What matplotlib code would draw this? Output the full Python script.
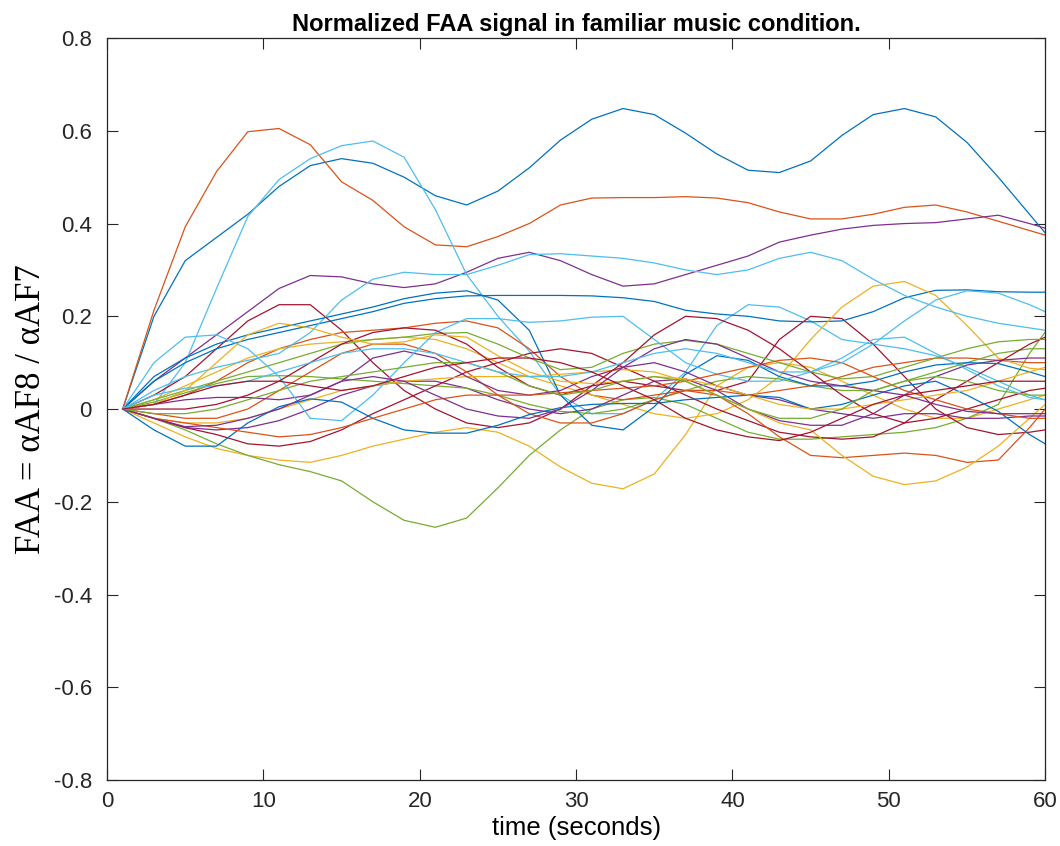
import matplotlib
matplotlib.use('Agg')
import matplotlib.pyplot as plt
from matplotlib.ticker import FuncFormatter

# sample times (seconds)
t = [1, 3, 5, 7, 9, 11, 13, 15, 17, 19, 21, 23, 25, 27, 29,
     31, 33, 35, 37, 39, 41, 43, 45, 47, 49, 51, 53, 55, 57, 59, 60]

# FAA traces, one list per trace
blue_a = [0, 0.2, 0.32, 0.37, 0.42, 0.48, 0.525, 0.54, 0.53, 0.5, 0.46, 0.44, 0.47, 0.52, 0.58,
          0.625, 0.648, 0.635, 0.595, 0.55, 0.515, 0.51, 0.535, 0.59, 0.635, 0.648, 0.63, 0.575, 0.5, 0.42, 0.38]
orange_a = [0, 0.213, 0.393, 0.512, 0.598, 0.605, 0.57, 0.49, 0.45, 0.393, 0.354, 0.35, 0.372, 0.4, 0.44,
            0.455, 0.456, 0.456, 0.458, 0.455, 0.445, 0.425, 0.41, 0.41, 0.42, 0.435, 0.44, 0.425, 0.405, 0.385, 0.375]
yellow_a = [0, -0.03, -0.06, -0.085, -0.1, -0.11, -0.115, -0.1, -0.08, -0.065, -0.05, -0.04, -0.05, -0.08, -0.125,
            -0.16, -0.172, -0.14, -0.055, 0.05, 0.09, 0.1, 0.09, 0.06, 0.03, 0.0, -0.02, -0.02, 0.0, 0.02, 0.03]
purple_a = [0, 0.06, 0.11, 0.16, 0.21, 0.26, 0.288, 0.285, 0.27, 0.262, 0.27, 0.295, 0.325, 0.338, 0.32,
            0.29, 0.265, 0.27, 0.29, 0.31, 0.33, 0.36, 0.375, 0.388, 0.396, 0.4, 0.402, 0.41, 0.418, 0.4, 0.39]
green_a = [0, -0.02, -0.045, -0.075, -0.1, -0.12, -0.135, -0.155, -0.2, -0.24, -0.255, -0.235, -0.17, -0.1, -0.045,
           0.0, 0.02, 0.025, 0.01, -0.02, -0.05, -0.065, -0.065, -0.06, -0.055, -0.05, -0.04, -0.02, 0.01, 0.12, 0.166]
ltblue_a = [0, 0.01, 0.1, 0.26, 0.415, 0.495, 0.54, 0.568, 0.578, 0.543, 0.43, 0.29, 0.2, 0.125, 0.03,
            -0.01, -0.01, 0.02, 0.08, 0.18, 0.225, 0.22, 0.19, 0.15, 0.14, 0.13, 0.115, 0.09, 0.06, 0.03, 0.02]
red_a = [0, 0.03, 0.07, 0.13, 0.19, 0.225, 0.225, 0.17, 0.1, 0.04, 0.0, -0.03, -0.04, -0.03, 0.0,
         0.05, 0.06, 0.05, 0.04, 0.04, 0.06, 0.15, 0.2, 0.195, 0.14, 0.07, 0.0, -0.04, -0.055, -0.05, -0.045]

blue_b = [0, 0.06, 0.1, 0.13, 0.15, 0.165, 0.18, 0.195, 0.21, 0.228, 0.238, 0.244, 0.245, 0.245, 0.245,
          0.244, 0.24, 0.232, 0.213, 0.205, 0.2, 0.19, 0.188, 0.19, 0.21, 0.24, 0.256, 0.257, 0.253, 0.252, 0.252]
orange_b = [0, 0.01, 0.03, 0.06, 0.1, 0.13, 0.15, 0.165, 0.17, 0.175, 0.185, 0.19, 0.175, 0.13, 0.07,
            0.03, 0.02, 0.03, 0.04, 0.04, 0.03, 0.04, 0.05, 0.07, 0.09, 0.1, 0.11, 0.11, 0.105, 0.1, 0.1]
yellow_b = [0, 0.02, 0.05, 0.08, 0.11, 0.13, 0.14, 0.145, 0.15, 0.155, 0.15, 0.13, 0.1, 0.07, 0.05,
            0.03, 0.01, -0.01, -0.02, -0.01, 0.02, 0.07, 0.15, 0.22, 0.265, 0.275, 0.245, 0.18, 0.11, 0.088, 0.085]
purple_b = [0, -0.02, -0.04, -0.045, -0.04, -0.025, 0.0, 0.03, 0.05, 0.06, 0.06, 0.045, 0.02, 0.0, -0.01,
            0.0, 0.03, 0.06, 0.065, 0.04, 0.0, -0.025, -0.035, -0.035, -0.01, 0.03, 0.07, 0.095, 0.105, 0.11, 0.11]
green_b = [0, 0.015, 0.035, 0.055, 0.07, 0.072, 0.07, 0.065, 0.06, 0.055, 0.05, 0.045, 0.03, 0.01, -0.005,
           -0.01, 0.0, 0.02, 0.04, 0.06, 0.07, 0.065, 0.05, 0.04, 0.04, 0.06, 0.08, 0.1, 0.12, 0.13, 0.13]
ltblue_b = [0, 0.04, 0.07, 0.09, 0.105, 0.12, 0.165, 0.235, 0.28, 0.295, 0.29, 0.29, 0.31, 0.333, 0.335,
            0.33, 0.325, 0.315, 0.3, 0.29, 0.3, 0.325, 0.338, 0.32, 0.28, 0.245, 0.22, 0.2, 0.185, 0.175, 0.17]
red_b = [0, -0.02, -0.04, -0.055, -0.075, -0.08, -0.07, -0.045, -0.01, 0.02, 0.05, 0.08, 0.1, 0.12, 0.13,
         0.12, 0.09, 0.06, 0.03, 0.0, -0.025, -0.05, -0.06, -0.065, -0.06, -0.03, 0.02, 0.06, 0.1, 0.14, 0.155]

blue_c = [0, 0.07, 0.11, 0.14, 0.16, 0.175, 0.19, 0.205, 0.22, 0.238, 0.25, 0.255, 0.235, 0.17, 0.03,
          -0.035, -0.045, 0.005, 0.075, 0.115, 0.105, 0.07, 0.05, 0.05, 0.06, 0.08, 0.095, 0.1, 0.098, 0.08, 0.07]
orange_c = [0, -0.01, -0.02, -0.02, 0.0, 0.04, 0.08, 0.12, 0.14, 0.14, 0.12, 0.08, 0.03, -0.01, -0.03,
            -0.03, -0.01, 0.02, 0.04, 0.03, -0.01, -0.06, -0.1, -0.105, -0.1, -0.095, -0.1, -0.115, -0.11, -0.04, 0.0]
yellow_c = [0, -0.02, -0.03, -0.03, -0.02, 0.0, 0.02, 0.04, 0.05, 0.06, 0.065, 0.07, 0.07, 0.07, 0.075,
            0.08, 0.085, 0.08, 0.06, 0.03, 0.0, -0.03, -0.045, -0.1, -0.145, -0.163, -0.155, -0.125, -0.08, -0.02, 0.01]
purple_c = [0, 0.01, 0.02, 0.025, 0.025, 0.02, 0.03, 0.06, 0.11, 0.125, 0.11, 0.07, 0.04, 0.03, 0.04,
            0.07, 0.09, 0.1, 0.08, 0.05, 0.03, 0.02, 0.0, -0.01, -0.02, -0.01, -0.01, -0.02, -0.02, -0.015, -0.015]
green_c = [0, 0.02, 0.04, 0.06, 0.08, 0.1, 0.12, 0.14, 0.15, 0.155, 0.163, 0.165, 0.14, 0.11, 0.085,
           0.09, 0.12, 0.14, 0.148, 0.14, 0.12, 0.1, 0.08, 0.065, 0.07, 0.09, 0.11, 0.13, 0.145, 0.15, 0.15]
ltblue_c = [0, 0.1, 0.155, 0.16, 0.13, 0.07, -0.02, -0.025, 0.03, 0.1, 0.165, 0.195, 0.195, 0.187, 0.19,
            0.198, 0.2, 0.15, 0.1, 0.075, 0.06, 0.06, 0.08, 0.11, 0.15, 0.155, 0.12, 0.085, 0.05, 0.025, 0.02]
red_c = [0, 0.0, 0.0, 0.01, 0.03, 0.06, 0.1, 0.14, 0.165, 0.175, 0.17, 0.14, 0.09, 0.05, 0.03,
         0.05, 0.1, 0.16, 0.2, 0.195, 0.17, 0.13, 0.08, 0.03, -0.01, -0.03, -0.02, 0.0, 0.02, 0.04, 0.045]

blue_d = [0, -0.045, -0.08, -0.08, -0.03, 0.005, 0.022, 0.015, -0.02, -0.045, -0.052, -0.052, -0.035, -0.012, 0.003,
          0.01, 0.012, 0.012, 0.02, 0.025, 0.03, 0.025, 0.0, 0.01, 0.03, 0.05, 0.06, 0.03, -0.005, -0.055, -0.075]
orange_d = [0, -0.02, -0.03, -0.04, -0.05, -0.06, -0.055, -0.04, -0.02, 0.0, 0.02, 0.03, 0.03, 0.03, 0.035,
            0.04, 0.045, 0.05, 0.06, 0.075, 0.09, 0.105, 0.11, 0.1, 0.07, 0.04, 0.02, 0.0, -0.01, -0.02, -0.02]
yellow_d = [0, 0.01, 0.04, 0.1, 0.16, 0.185, 0.175, 0.155, 0.14, 0.145, 0.16, 0.155, 0.115, 0.08, 0.06,
            0.055, 0.06, 0.07, 0.065, 0.05, 0.03, 0.01, 0.0, 0.0, 0.01, 0.02, 0.03, 0.04, 0.06, 0.08, 0.09]
purple_d = [0, -0.02, -0.038, -0.035, -0.02, 0.0, 0.03, 0.06, 0.07, 0.06, 0.03, 0.0, -0.015, -0.02, 0.0,
            0.04, 0.09, 0.13, 0.15, 0.14, 0.11, 0.08, 0.06, 0.05, 0.04, 0.03, 0.01, -0.005, -0.01, -0.01, -0.01]
green_d = [0, -0.01, -0.01, 0.0, 0.02, 0.04, 0.06, 0.07, 0.08, 0.09, 0.1, 0.1, 0.08, 0.05, 0.03,
           0.04, 0.06, 0.07, 0.06, 0.03, 0.0, -0.02, -0.02, 0.0, 0.04, 0.06, 0.07, 0.06, 0.04, 0.03, 0.03]
ltblue_d = [0, 0.03, 0.045, 0.05, 0.06, 0.08, 0.1, 0.12, 0.13, 0.13, 0.12, 0.1, 0.08, 0.07, 0.07,
            0.08, 0.1, 0.12, 0.13, 0.12, 0.1, 0.08, 0.08, 0.1, 0.14, 0.19, 0.235, 0.255, 0.25, 0.225, 0.21]
red_d = [0, 0.01, 0.03, 0.05, 0.06, 0.06, 0.05, 0.04, 0.05, 0.07, 0.09, 0.1, 0.11, 0.11, 0.1,
         0.08, 0.05, 0.02, -0.02, -0.045, -0.06, -0.068, -0.05, -0.02, 0.01, 0.03, 0.04, 0.05, 0.06, 0.06, 0.06]

traces = [blue_a, orange_a, yellow_a, purple_a, green_a, ltblue_a, red_a,
          blue_b, orange_b, yellow_b, purple_b, green_b, ltblue_b, red_b,
          blue_c, orange_c, yellow_c, purple_c, green_c, ltblue_c, red_c,
          blue_d, orange_d, yellow_d, purple_d, green_d, ltblue_d, red_d]

# matlab default colour order
colors = ['#0072BD', '#D95319', '#EDB120', '#7E2F8E', '#77AC30', '#4DBEEE', '#A2142F']

fig = plt.figure(figsize=(10.6, 8.46), dpi=100)
ax = fig.add_axes([0.101, 0.078, 0.885, 0.877])

for i, tr in enumerate(traces):
    ax.plot(t, tr, color=colors[i % 7], lw=0.9)

ax.set_xlim(0, 60)
ax.set_ylim(-0.8, 0.8)
ax.set_xticks(range(0, 61, 10))
ax.set_yticks([-0.8, -0.6, -0.4, -0.2, 0, 0.2, 0.4, 0.6, 0.8])
ax.yaxis.set_major_formatter(FuncFormatter(lambda v, p: '%g' % round(v, 2)))
ax.tick_params(direction='in', length=8, width=0.8, top=True, right=True,
               labelsize=16, colors='#262626')
ax.tick_params(axis='y', pad=11)
ax.tick_params(axis='x', pad=8)
for lab in ax.get_xticklabels() + ax.get_yticklabels():
    lab.set_family('Liberation Sans')
for s in ax.spines.values():
    s.set_linewidth(0.9)
    s.set_color('#262626')

ax.set_title('Normalized FAA signal in familiar music condition.', fontsize=17,
             fontweight='bold', family='Liberation Sans', pad=5)
ax.set_xlabel('time (seconds)', fontsize=18.5, family='Liberation Sans', labelpad=3)
ax.set_ylabel('FAA = \u03b1AF8 / \u03b1AF7', fontsize=25, family='Liberation Serif', labelpad=4)

fig.savefig('out.png', dpi=100, facecolor='white')
